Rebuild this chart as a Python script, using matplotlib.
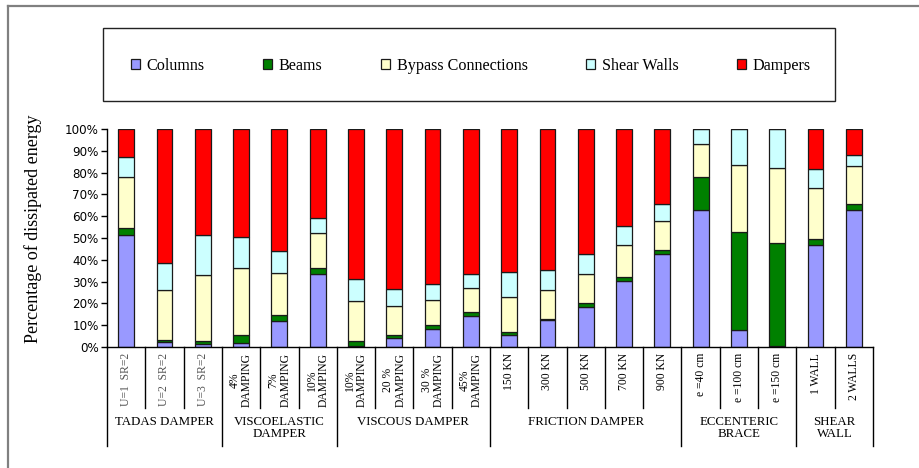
import matplotlib
matplotlib.use("Agg")
import matplotlib.pyplot as plt
import numpy as np
from matplotlib.patches import Rectangle
from matplotlib.lines import Line2D
from matplotlib.ticker import FuncFormatter

# ---------------- data ----------------
sub_labels = ["U=1  SR=2", "U=2  SR=2", "U=3  SR=2",
              "4%\nDAMPING", "7%\nDAMPING", "10%\nDAMPING",
              "10%\nDAMPING", "20 %\nDAMPING", "30 %\nDAMPING", "45%\nDAMPING",
              "150 KN", "300 KN", "500 KN", "700 KN", "900 KN",
              "e =40 cm", "e =100 cm", "e =150 cm",
              "1 WALL", "2 WALLS"]
group_names = ["TADAS DAMPER", "VISCOELASTIC\nDAMPER", "VISCOUS DAMPER",
               "FRICTION DAMPER", "ECCENTERIC\nBRACE", "SHEAR\nWALL"]
group_sizes = [3, 3, 4, 5, 3, 2]

series_names = ["Columns", "Beams", "Bypass Connections", "Shear Walls", "Dampers"]
columns = [51.5, 2.3, 1.2, 2.0, 12.1, 33.5, 0.6, 4.1, 8.4, 14.2,
           5.7, 12.4, 18.5, 30.5, 42.7, 62.9, 7.8, 0.3, 46.6, 62.9]
beams = [3.2, 0.8, 1.4, 3.7, 2.8, 2.8, 2.3, 1.6, 1.7, 1.9,
         1.0, 0.3, 1.6, 1.4, 1.9, 14.9, 45.0, 47.2, 2.9, 2.6]
bypass = [23.1, 22.9, 30.6, 30.4, 19.2, 16.1, 18.4, 13.0, 11.6, 11.0,
          16.4, 13.5, 13.4, 14.7, 13.4, 15.3, 30.7, 34.6, 23.4, 17.3]
shear_walls = [9.2, 12.7, 18.1, 14.4, 9.9, 7.0, 10.1, 7.8, 7.4, 6.4,
               11.2, 9.0, 9.1, 9.1, 7.4, 6.9, 16.5, 17.9, 8.7, 5.1]
dampers = [13.0, 61.3, 48.7, 49.5, 56.0, 40.6, 68.6, 73.5, 70.9, 66.5,
           65.7, 64.8, 57.4, 44.3, 34.6, 0.0, 0.0, 0.0, 18.4, 12.1]
y_ticks = [0, 10, 20, 30, 40, 50, 60, 70, 80, 90, 100]

colors = ["#9999FF", "#008000", "#FFFFCC", "#CCFFFF", "#FF0000"]

# ---------------- figure ----------------
W, H = 919, 468
fig = plt.figure(figsize=(W / 100, H / 100), dpi=100)

def fx(px):
    return px / W

def fy(py):
    return 1 - py / H

ax_l, ax_r, ax_t, ax_b = 107, 873, 129, 347
ax = fig.add_axes([fx(ax_l), fy(ax_b), fx(ax_r - ax_l), (ax_b - ax_t) / H])

serif = ["Liberation Serif", "DejaVu Serif"]

x = np.arange(len(sub_labels))
bottom = np.zeros(len(x))
handles = []
for name, vals, c in zip(series_names, [columns, beams, bypass, shear_walls, dampers], colors):
    v = np.array(vals)
    b = ax.bar(x, v, 0.41, bottom=bottom, color=c, edgecolor="#1a1a1a",
               linewidth=0.9, label=name)
    handles.append(b)
    bottom += v

ax.set_xlim(-0.5, len(x) - 0.5)
ax.set_ylim(0, 100)
ax.set_yticks(y_ticks)
ax.yaxis.set_major_formatter(FuncFormatter(lambda v, p: f"{int(v)}%"))
ax.tick_params(axis="y", direction="out", length=4, width=1, labelsize=8.6,
               colors="black", pad=2)
ax.tick_params(axis="x", bottom=False, labelbottom=False)
for s in ["top", "right"]:
    ax.spines[s].set_visible(False)
for s in ["left", "bottom"]:
    ax.spines[s].set_linewidth(1.0)
    ax.spines[s].set_color("black")
for lab in ax.get_yticklabels():
    lab.set_family("DejaVu Sans")

# table below the axis
ah = ax_b - ax_t
def ay(py):
    return -(py - ax_b) / ah

trans = ax.get_xaxis_transform()
bounds = np.cumsum([0] + group_sizes)
group_edges = set(bounds.tolist())
for i in range(len(x) + 1):
    xe = i - 0.5
    y_end = ay(446) if i in group_edges else ay(408)
    ax.add_line(Line2D([xe, xe], [0, y_end], transform=trans, color="black",
                       linewidth=1.0, clip_on=False))

for i, lab in enumerate(sub_labels):
    col = "#555555" if i < 3 else "black"
    ax.text(x[i], ay(353), lab, transform=trans, rotation=90, ha="center",
            va="top", multialignment="center", fontsize=8.4, family=serif,
            color=col, linespacing=1.0)

for g, name in enumerate(group_names):
    xc = (bounds[g] + bounds[g + 1]) / 2 - 0.5
    ax.text(xc, ay(416), name, transform=trans, ha="center", va="top",
            multialignment="center", fontsize=9.3, family=serif, linespacing=1.05)

# y label
fig.text(fx(33), fy(229), "Percentage of dissipated energy", rotation=90,
         ha="center", va="center", fontsize=13, family=serif)

# legend box
fig.add_artist(Rectangle((fx(103), fy(101)), fx(835 - 103), (101 - 28) / H,
                         transform=fig.transFigure, fill=False,
                         edgecolor="#222222", linewidth=1.0))
leg = fig.legend(handles=handles, loc="center", bbox_to_anchor=(fx(471), fy(66)),
                 ncol=5, frameon=False, prop={"family": serif, "size": 11.6},
                 handlelength=0.55, handleheight=0.55, handletextpad=0.4,
                 columnspacing=3.65, borderpad=0)

# outer frame (top and left lines)
fig.add_artist(Line2D([fx(8), 1.0], [fy(6), fy(6)], transform=fig.transFigure,
                      color="#808080", linewidth=1.6))
fig.add_artist(Line2D([fx(8), fx(8)], [fy(6), 0.0], transform=fig.transFigure,
                      color="#808080", linewidth=1.6))

fig.savefig("out.png", dpi=100)
